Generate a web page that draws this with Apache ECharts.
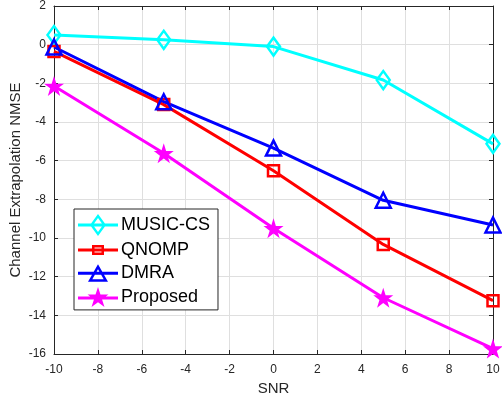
<!DOCTYPE html>
<html>
<head>
<meta charset="utf-8">
<script src="https://cdn.jsdelivr.net/npm/echarts@6/dist/echarts.min.js"></script>
<style>
  html, body { margin: 0; padding: 0; background: #fff; }
  #chart { width: 502px; height: 399px; }
</style>
</head>
<body>
<div id="chart"></div>
<script>
const snr = [-10, -5, 0, 5, 10]
const musicCs = [0.5, 0.25, -0.1, -1.83, -5.13]
const qnomp = [-0.35, -3.1, -6.52, -10.33, -13.24]
const dmra = [-0.12, -2.95, -5.35, -8.05, -9.33]
const proposed = [-2.14, -5.62, -9.5, -13.09, -15.72]
const names = ['MUSIC-CS', 'QNOMP', 'DMRA', 'Proposed']
const colors = ['#00ffff', '#ff0000', '#0000ff', '#ff00ff']

const starPath = 'path://M50,0 L61.8,36.2 L100,36.2 L69.1,58.6 L80.9,95.1 L50,72.7 L19.1,95.1 L30.9,58.6 L0,36.2 L38.2,36.2 Z'
const axisColor = '#262626'

// legend icons: a line through a marker, drawn in a 40 x 25 box
const legLine = 'M0,11 L40,11 L40,14 L0,14 Z '
const legendIcons = [
  'path://' + legLine + 'M20,1.5 L28,12.5 L20,23.5 L12,12.5 Z M20,5.5 L15,12.5 L20,19.5 L25,12.5 Z',
  'path://' + legLine + 'M14,7.5 L26,7.5 L26,17.5 L14,17.5 Z M16.5,10 L16.5,15 L23.5,15 L23.5,10 Z',
  'path://' + legLine + 'M20,3.5 L30,21 L10,21 Z M20,8.5 L14.3,18.6 L25.7,18.6 Z',
  'path://' + legLine + 'M20,1.5 L22.47,9.1 L30.46,9.1 L23.99,13.8 L26.47,21.4 L20,16.7 L13.53,21.4 L16.01,13.8 L9.54,9.1 L17.53,9.1 Z'
]

function pairs(ys) {
  return snr.map((x, i) => [x, ys[i]])
}

function makeSeries(name, ys, color, symbol, size, filled) {
  return {
    name: name,
    type: 'line',
    data: pairs(ys),
    symbol: symbol,
    symbolSize: size,
    showAllSymbol: true,
    lineStyle: { color: color, width: 3 },
    itemStyle: {
      color: filled ? color : 'rgba(255,255,255,0)',
      borderColor: color,
      borderWidth: filled ? 0 : 2.5
    },
    emphasis: { disabled: true },
    z: 3
  }
}

const tickStyle = { inside: true, length: 4, lineStyle: { color: axisColor } }

const chart = echarts.init(document.getElementById('chart'))
const option = {
  animation: false,
  textStyle: { fontFamily: 'Liberation Sans, Arial, sans-serif' },
  grid: { left: 54, right: 9, top: 6, bottom: 45, outerBoundsMode: 'none' },
  legend: {
    orient: 'vertical',
    left: 74,
    top: 209,
    itemWidth: 40,
    itemHeight: 25,
    itemGap: 5,
    padding: [5, 8, 3, 4],
    backgroundColor: '#fff',
    borderColor: axisColor,
    borderWidth: 1,
    textStyle: { fontSize: 18, color: '#000', padding: [0, 0, 0, -2] },
    data: names.map((n, i) => ({
      name: n,
      icon: legendIcons[i],
      itemStyle: { color: colors[i], borderWidth: 0, opacity: 1 }
    }))
  },
  xAxis: [{
    type: 'value',
    min: -10,
    max: 10,
    interval: 2,
    name: 'SNR',
    nameLocation: 'middle',
    nameGap: 27,
    nameMoveOverlap: false,
    nameTextStyle: { fontSize: 15, color: axisColor },
    axisLine: { onZero: false, lineStyle: { color: axisColor } },
    axisTick: tickStyle,
    axisLabel: { fontSize: 12, color: axisColor, margin: 10 },
    splitLine: { lineStyle: { color: '#dfdfdf' } }
  }, {
    type: 'value',
    position: 'top',
    min: -10,
    max: 10,
    interval: 2,
    axisLine: { onZero: false, lineStyle: { color: axisColor } },
    axisTick: tickStyle,
    axisLabel: { show: false },
    splitLine: { show: false }
  }],
  yAxis: [{
    type: 'value',
    min: -16,
    max: 2,
    interval: 2,
    name: 'Channel Extrapolation NMSE',
    nameLocation: 'middle',
    nameGap: 31,
    nameMoveOverlap: false,
    nameTextStyle: { fontSize: 15, color: axisColor },
    axisLine: { onZero: false, lineStyle: { color: axisColor } },
    axisTick: tickStyle,
    axisLabel: { fontSize: 12, color: axisColor, margin: 8 },
    splitLine: { lineStyle: { color: '#dfdfdf' } }
  }, {
    type: 'value',
    position: 'right',
    min: -16,
    max: 2,
    interval: 2,
    axisLine: { show: true, onZero: false, lineStyle: { color: axisColor } },
    axisTick: Object.assign({ show: true }, tickStyle),
    axisLabel: { show: false },
    splitLine: { show: false }
  }],
  series: [
    makeSeries(names[0], musicCs, colors[0], 'diamond', [13, 18], false),
    makeSeries(names[1], qnomp, colors[1], 'rect', 11, false),
    makeSeries(names[2], dmra, colors[2], 'triangle', 15, false),
    makeSeries(names[3], proposed, colors[3], starPath, 20, true)
  ]
}
chart.setOption(option)
</script>
</body>
</html>
